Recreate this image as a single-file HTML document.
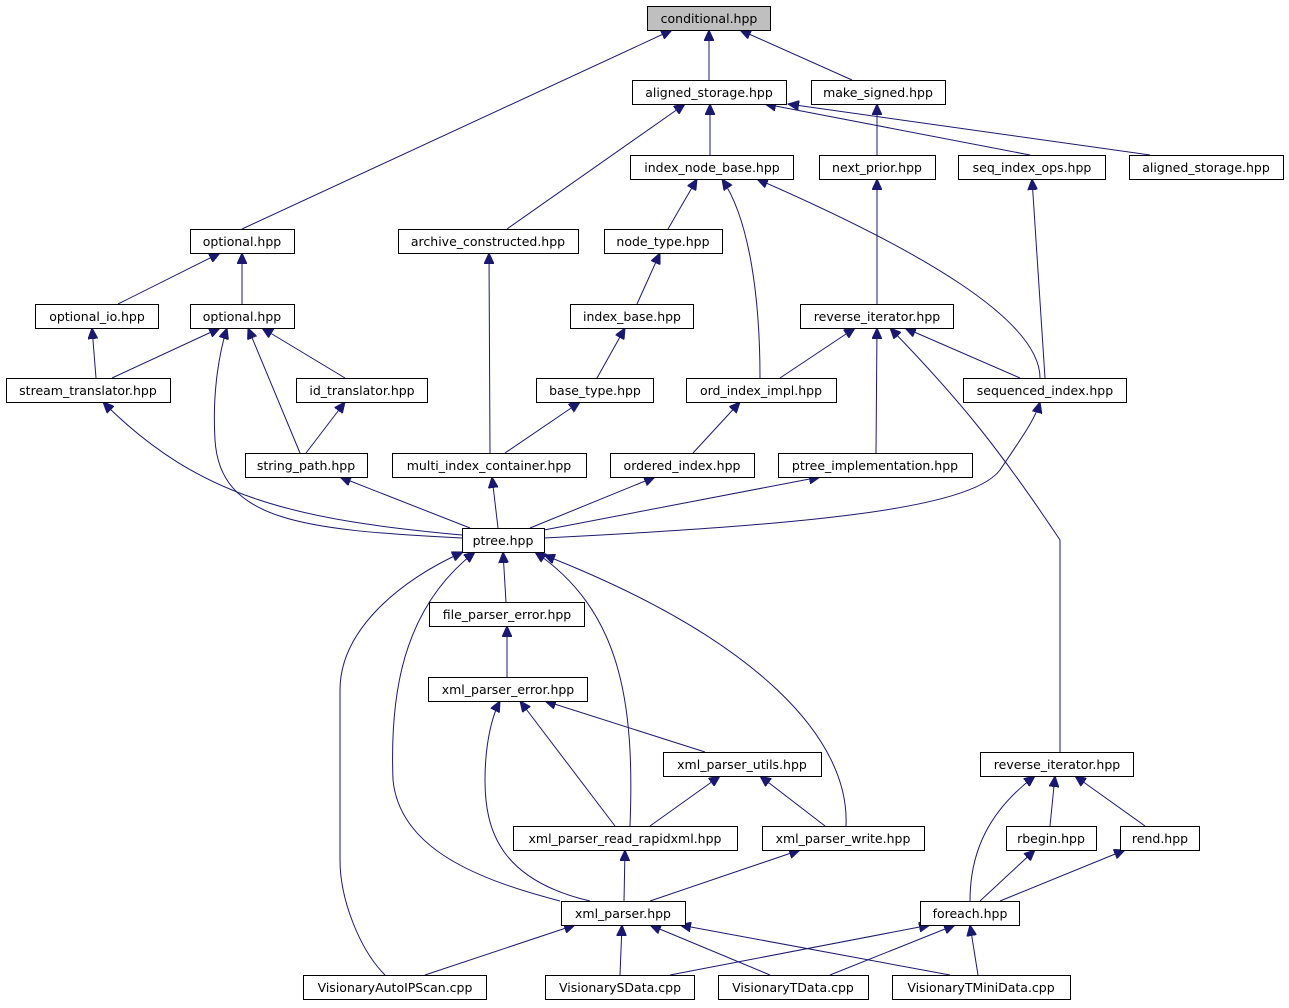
<!DOCTYPE html>
<html><head><meta charset="utf-8"><style>
html,body{margin:0;padding:0;background:#fff;}
svg{display:block;}
text{font-family:"DejaVu Sans","Liberation Sans",sans-serif;font-size:12.5px;fill:#000;text-anchor:middle;}
rect{fill:#fff;stroke:#000;stroke-width:1;}
path{fill:none;stroke:#191970;stroke-width:1;}
</style></head><body>
<svg width="1289" height="1008" viewBox="0 0 1289 1008" xmlns="http://www.w3.org/2000/svg">
<defs><marker id="a" markerWidth="12" markerHeight="10" refX="11" refY="5" orient="auto" markerUnits="userSpaceOnUse"><path d="M0,0 L11,5 L0,10 Z" style="fill:#191970;stroke:#191970"/></marker></defs>
<g marker-end="url(#a)">
<path d="M242,229 L672,30"/>
<path d="M709,80 L709,30"/>
<path d="M852,80 L740,30"/>
<path d="M507,229 L685,104"/>
<path d="M710,155 L710,104"/>
<path d="M1030,155 L765,104"/>
<path d="M1150,155 L788,104"/>
<path d="M877,155 L877,104"/>
<path d="M668,229 L697,179"/>
<path d="M760,378 C760,300 750,220 722,179"/>
<path d="M1040,378 C1040,320 920,250 757,179"/>
<path d="M118,304 L220,253"/>
<path d="M242,304 L242,253"/>
<path d="M637,304 L660,253"/>
<path d="M877,304 L877,179"/>
<path d="M1045,378 L1032,179"/>
<path d="M96,378 L92,328"/>
<path d="M112,378 L220,328"/>
<path d="M462,538 C300,530 220,520 215,440 C212,390 220,350 227,328"/>
<path d="M300,453 L248,328"/>
<path d="M345,378 L262,328"/>
<path d="M597,378 L625,328"/>
<path d="M780,378 L855,328"/>
<path d="M1020,378 L905,328"/>
<path d="M876,453 L877,328"/>
<path d="M1060,752 L1060,540 C1000,450 960,400 890,328"/>
<path d="M462,535 C300,520 200,500 103,402"/>
<path d="M306,453 L345,402"/>
<path d="M490,453 L489,253"/>
<path d="M505,453 L580,402"/>
<path d="M693,453 L740,402"/>
<path d="M470,528 L340,477"/>
<path d="M498,528 L492,477"/>
<path d="M530,528 L655,477"/>
<path d="M544,530 L820,477"/>
<path d="M544,538 C800,525 970,510 1000,470 C1020,440 1035,420 1040,402"/>
<path d="M506,602 L503,552"/>
<path d="M630,826 C635,700 620,610 535,552"/>
<path d="M846,826 C850,740 760,640 544,555"/>
<path d="M560,901 C480,880 400,850 393,780 C390,700 400,610 475,552"/>
<path d="M385,975 C360,950 340,900 340,860 L340,690 C340,630 400,580 463,552"/>
<path d="M507,677 L507,626"/>
<path d="M705,752 L545,701"/>
<path d="M615,826 L520,701"/>
<path d="M590,901 C500,880 485,830 485,780 C485,750 490,720 500,701"/>
<path d="M650,826 L720,776"/>
<path d="M825,826 L760,776"/>
<path d="M624,901 L625,850"/>
<path d="M650,901 L800,850"/>
<path d="M1050,826 L1055,776"/>
<path d="M1145,826 L1075,776"/>
<path d="M970,901 C970,850 990,810 1035,776"/>
<path d="M980,901 L1035,850"/>
<path d="M1000,901 L1125,850"/>
<path d="M425,975 L575,925"/>
<path d="M620,975 L622,925"/>
<path d="M770,975 L650,925"/>
<path d="M950,975 L680,925"/>
<path d="M670,975 L930,925"/>
<path d="M830,975 L955,925"/>
<path d="M978,975 L970,925"/>
</g>
<rect x="647.5" y="6.5" width="123" height="24" style="fill:#bfbfbf"/><text x="709" y="23">conditional.hpp</text>
<rect x="632.5" y="80.5" width="154" height="24"/><text x="709" y="97">aligned_storage.hpp</text>
<rect x="811.5" y="80.5" width="134" height="24"/><text x="878" y="97">make_signed.hpp</text>
<rect x="630.5" y="155.5" width="163" height="24"/><text x="712" y="172">index_node_base.hpp</text>
<rect x="819.5" y="155.5" width="116" height="24"/><text x="877" y="172">next_prior.hpp</text>
<rect x="958.5" y="155.5" width="147" height="24"/><text x="1032" y="172">seq_index_ops.hpp</text>
<rect x="1129.5" y="155.5" width="154" height="24"/><text x="1206" y="172">aligned_storage.hpp</text>
<rect x="190.5" y="229.5" width="104" height="24"/><text x="242" y="246">optional.hpp</text>
<rect x="398.5" y="229.5" width="180" height="24"/><text x="488" y="246">archive_constructed.hpp</text>
<rect x="604.5" y="229.5" width="118" height="24"/><text x="663" y="246">node_type.hpp</text>
<rect x="35.5" y="304.5" width="123" height="24"/><text x="97" y="321">optional_io.hpp</text>
<rect x="190.5" y="304.5" width="104" height="24"/><text x="242" y="321">optional.hpp</text>
<rect x="570.5" y="304.5" width="123" height="24"/><text x="632" y="321">index_base.hpp</text>
<rect x="800.5" y="304.5" width="153" height="24"/><text x="877" y="321">reverse_iterator.hpp</text>
<rect x="6.5" y="378.5" width="164" height="24"/><text x="88" y="395">stream_translator.hpp</text>
<rect x="296.5" y="378.5" width="131" height="24"/><text x="362" y="395">id_translator.hpp</text>
<rect x="536.5" y="378.5" width="117" height="24"/><text x="595" y="395">base_type.hpp</text>
<rect x="686.5" y="378.5" width="150" height="24"/><text x="761" y="395">ord_index_impl.hpp</text>
<rect x="963.5" y="378.5" width="163" height="24"/><text x="1045" y="395">sequenced_index.hpp</text>
<rect x="245.5" y="453.5" width="122" height="24"/><text x="306" y="470">string_path.hpp</text>
<rect x="392.5" y="453.5" width="194" height="24"/><text x="489" y="470">multi_index_container.hpp</text>
<rect x="610.5" y="453.5" width="144" height="24"/><text x="682" y="470">ordered_index.hpp</text>
<rect x="778.5" y="453.5" width="194" height="24"/><text x="875" y="470">ptree_implementation.hpp</text>
<rect x="462.5" y="528.5" width="82" height="24"/><text x="503" y="545">ptree.hpp</text>
<rect x="429.5" y="602.5" width="155" height="24"/><text x="507" y="619">file_parser_error.hpp</text>
<rect x="428.5" y="677.5" width="159" height="24"/><text x="508" y="694">xml_parser_error.hpp</text>
<rect x="663.5" y="752.5" width="158" height="24"/><text x="742" y="769">xml_parser_utils.hpp</text>
<rect x="980.5" y="752.5" width="153" height="24"/><text x="1057" y="769">reverse_iterator.hpp</text>
<rect x="513.5" y="826.5" width="224" height="24"/><text x="625" y="843">xml_parser_read_rapidxml.hpp</text>
<rect x="762.5" y="826.5" width="162" height="24"/><text x="843" y="843">xml_parser_write.hpp</text>
<rect x="1006.5" y="826.5" width="90" height="24"/><text x="1051" y="843">rbegin.hpp</text>
<rect x="1120.5" y="826.5" width="79" height="24"/><text x="1160" y="843">rend.hpp</text>
<rect x="561.5" y="901.5" width="124" height="24"/><text x="623" y="918">xml_parser.hpp</text>
<rect x="920.5" y="901.5" width="99" height="24"/><text x="970" y="918">foreach.hpp</text>
<rect x="303.5" y="975.5" width="183" height="24"/><text x="395" y="992">VisionaryAutoIPScan.cpp</text>
<rect x="545.5" y="975.5" width="149" height="24"/><text x="620" y="992">VisionarySData.cpp</text>
<rect x="718.5" y="975.5" width="150" height="24"/><text x="793" y="992">VisionaryTData.cpp</text>
<rect x="892.5" y="975.5" width="178" height="24"/><text x="981" y="992">VisionaryTMiniData.cpp</text>
</svg>
</body></html>
